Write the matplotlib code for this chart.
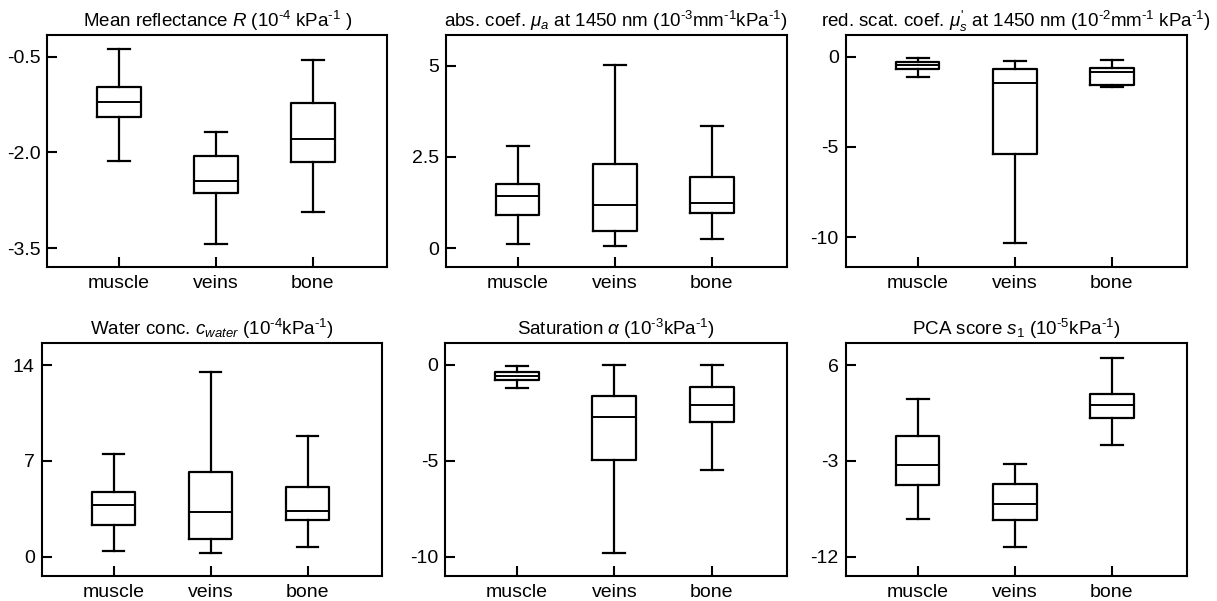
import matplotlib
matplotlib.use("Agg")
import matplotlib.pyplot as plt

plt.rcParams['font.family'] = ['Liberation Sans', 'DejaVu Sans']
plt.rcParams['mathtext.fontset'] = 'custom'
plt.rcParams['mathtext.rm'] = 'Liberation Sans'
plt.rcParams['mathtext.it'] = 'Liberation Sans:italic'
plt.rcParams['mathtext.bf'] = 'Liberation Sans:bold'
plt.rcParams['axes.unicode_minus'] = False

categories = ["muscle", "veins", "bone"]

# each list: [whisker low, Q1, median, Q3, whisker high] per category
refl_stats = [[-2.13, -1.44, -1.21, -0.98, -0.38],
              [-3.43, -2.63, -2.44, -2.05, -1.68],
              [-2.94, -2.15, -1.79, -1.22, -0.55]]
mua_stats = [[0.12, 0.90, 1.44, 1.76, 2.80],
             [0.06, 0.46, 1.17, 2.30, 5.01],
             [0.25, 0.95, 1.23, 1.94, 3.34]]
mus_stats = [[-1.14, -0.70, -0.48, -0.29, -0.07],
             [-10.3, -5.38, -1.47, -0.68, -0.26],
             [-1.69, -1.57, -0.85, -0.63, -0.17]]
water_stats = [[0.44, 2.34, 3.78, 4.70, 7.48],
               [0.27, 1.27, 3.27, 6.16, 13.49],
               [0.73, 2.66, 3.32, 5.11, 8.82]]
sat_stats = [[-1.22, -0.80, -0.56, -0.37, -0.03],
             [-9.81, -4.98, -2.71, -1.62, 0.0],
             [-5.49, -2.97, -2.10, -1.16, 0.0]]
pca_stats = [[-8.44, -5.29, -3.34, -0.62, 2.78],
             [-11.12, -8.58, -7.08, -5.13, -3.25],
             [-1.48, 1.03, 2.22, 3.28, 6.63]]

titles = [
    r"Mean reflectance $R$ (10$^{\text{-}4}$ kPa$^{\text{-}1}$ )",
    r"abs. coef. $\mu_a$ at 1450 nm (10$^{\text{-}3}$mm$^{\text{-}1}$kPa$^{\text{-}1}$)",
    r"red. scat. coef. $\mu^{\text{'}}_s$ at 1450 nm (10$^{\text{-}2}$mm$^{\text{-}1}$ kPa$^{\text{-}1}$)",
    r"Water conc. $c_{water}$ (10$^{\text{-}4}$kPa$^{\text{-}1}$)",
    r"Saturation $\alpha$ (10$^{\text{-}3}$kPa$^{\text{-}1}$)",
    r"PCA score $\mathit{s_1}$ (10$^{\text{-}5}$kPa$^{\text{-}1}$)",
]
yticks = [[-0.5, -2.0, -3.5], [5, 2.5, 0], [0, -5, -10],
          [14, 7, 0], [0, -5, -10], [6, -3, -12]]
yticklabels = [["-0.5", "-2.0", "-3.5"], ["5", "2.5", "0"], ["0", "-5", "-10"],
               ["14", "7", "0"], ["0", "-5", "-10"], ["6", "-3", "-12"]]
ylims = [(-3.79, -0.16), (-0.51, 5.84), (-11.63, 1.2),
         (-1.39, 15.59), (-10.99, 1.13), (-13.78, 8.04)]
all_stats = [refl_stats, mua_stats, mus_stats, water_stats, sat_stats, pca_stats]

W, H = 1217, 601
fig = plt.figure(figsize=(W / 100, H / 100), dpi=100)

# axes rectangles in pixels: (left, top, right, bottom)
rects = [(47.3, 35, 387.3, 266.7), (445.7, 35, 786.7, 266.7), (845.7, 35, 1186.7, 266.7),
         (41.7, 343.3, 382.3, 575.7), (445.0, 343.3, 786.7, 575.7), (845.7, 343.3, 1186.7, 575.7)]

for i, (l, t, r, b) in enumerate(rects):
    ax = fig.add_axes([l / W, 1 - b / H, (r - l) / W, (b - t) / H])
    stats = []
    for name, s in zip(categories, all_stats[i]):
        stats.append(dict(label=name, whislo=s[0], q1=s[1], med=s[2], q3=s[3],
                          whishi=s[4], fliers=[]))
    lw = 1.6
    ax.bxp(stats, positions=[1, 2, 3], widths=0.45, showfliers=False,
           boxprops=dict(color='black', linewidth=lw),
           whiskerprops=dict(color='black', linewidth=lw),
           capprops=dict(color='black', linewidth=lw),
           medianprops=dict(color='black', linewidth=1.4))
    ax.set_xlim(0.26, 3.77)
    ax.set_ylim(*ylims[i])
    ax.set_yticks(yticks[i])
    ax.set_yticklabels(yticklabels[i])
    ax.set_xticks([1, 2, 3])
    ax.set_xticklabels(categories)
    ax.tick_params(axis='both', direction='in', length=7, width=1.5,
                   labelsize=14, color='black')
    ax.tick_params(axis='y', pad=5)
    ax.tick_params(axis='x', pad=6)
    for sp in ax.spines.values():
        sp.set_linewidth(1.5)
    ax.set_title(titles[i], fontsize=13.5, pad=6)

fig.savefig("out.png", dpi=100)
